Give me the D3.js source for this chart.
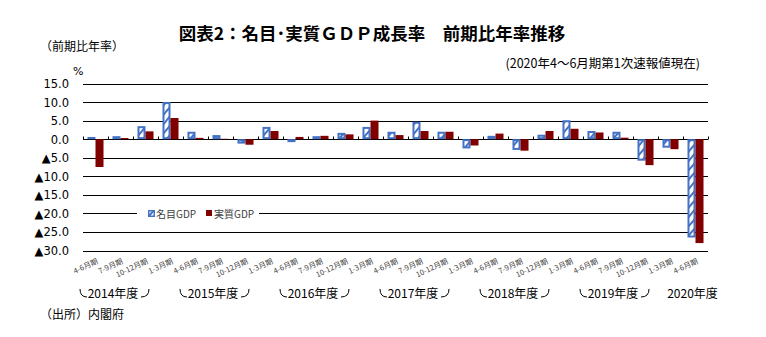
<!DOCTYPE html>
<html><head><meta charset="utf-8">
<script src="https://cdn.jsdelivr.net/npm/d3@7"></script>
<style>html,body{margin:0;padding:0;background:#fff;}</style>
</head><body>
<script>
const quarters = ["4-6月期","7-9月期","10-12月期","1-3月期","4-6月期","7-9月期","10-12月期","1-3月期","4-6月期","7-9月期","10-12月期","1-3月期","4-6月期","7-9月期","10-12月期","1-3月期","4-6月期","7-9月期","10-12月期","1-3月期","4-6月期","7-9月期","10-12月期","1-3月期","4-6月期"];
const nominal = [0.6, 0.8, 3.5, 10.0, 2.0, 1.1, -1.2, 3.3, -0.8, 0.8, 1.7, 3.3, 2.0, 4.7, 2.0, -2.5, 0.9, -2.9, 1.2, 5.1, 2.2, 2.0, -5.8, -2.3, -26.5];
const real    = [-7.5, 0.3, 2.1, 5.7, 0.35, 0.1, -1.5, 2.2, 0.6, 0.9, 1.3, 5.0, 1.1, 2.2, 2.0, -1.7, 1.5, -3.1, 2.2, 2.8, 1.8, 0.4, -7.0, -2.7, -28.0];
const fiscalYears = ["2014年度","2015年度","2016年度","2017年度","2018年度","2019年度","2020年度"];
const yTicks = [15, 10, 5, 0, -5, -10, -15, -20, -25, -30];
const seriesNames = ["名目GDP","実質GDP"];

const W = 766, H = 337;
const cjk = "'Noto Sans CJK JP','Noto Sans',sans-serif";
const svg = d3.select("body").append("svg").attr("width", W).attr("height", H)
  .style("font-family", cjk);

const defs = svg.append("defs");
const pat = defs.append("pattern").attr("id","hatch").attr("patternUnits","userSpaceOnUse")
  .attr("width",6).attr("height",6).attr("patternTransform","rotate(40)");
pat.append("rect").attr("width",6).attr("height",6).attr("fill","#fff");
pat.append("rect").attr("x",0).attr("width",2).attr("height",6).attr("fill","#4472C4");

const idx = d3.range(quarters.length);
const x = d3.scaleBand().domain(idx).range([83, 708]).padding(0);
const inner = d3.scaleBand().domain(["n","r"]).range([0, x.bandwidth()]).paddingInner(0).paddingOuter(0.56);
const y = d3.scaleLinear().domain([-30, 15]).range([250.5, 83.5]);

// title
svg.append("text").attr("x", 372).attr("y", 40).attr("text-anchor","middle")
  .attr("font-size", 17.5).attr("font-weight","bold").attr("fill","#000")
  .text("図表2：名目･実質ＧＤＰ成長率　前期比年率推移");
svg.append("text").attr("x", 40).attr("y", 51).attr("font-size", 12).attr("fill","#000")
  .text("（前期比年率）");
svg.append("text").attr("x", 700).attr("y", 68).attr("text-anchor","end").attr("font-size", 12.5).attr("fill","#000")
  .text("(2020年4～6月期第1次速報値現在)");
svg.append("text").attr("x", 73).attr("y", 75).attr("font-size", 11).attr("fill","#000")
  .style("font-family","'DejaVu Sans',sans-serif").text("%");
svg.append("text").attr("x", 40).attr("y", 319).attr("font-size", 12).attr("fill","#000")
  .text("（出所）内閣府");

// grid
const g = svg.append("g");
g.selectAll("line.grid").data(yTicks).join("line").attr("class","grid")
  .attr("x1", 83).attr("x2", 708).attr("y1", d => Math.round(y(d))+0.5).attr("y2", d => Math.round(y(d))+0.5)
  .attr("stroke","#000").attr("stroke-width",1);

// y labels
g.selectAll("text.yl").data(yTicks).join("text").attr("class","yl")
  .attr("x", 69).attr("y", d => y(d)+4.5).attr("text-anchor","end")
  .attr("font-size", 11.5).attr("fill","#000").style("font-family","'DejaVu Sans',sans-serif")
  .text(d => d < 0 ? "▲" + Math.abs(d).toFixed(1) : d.toFixed(1));

// zero-line ticks at category boundaries
const bounds = idx.map(i => x(i)).concat([x.range()[1]]);
g.selectAll("line.tk").data(bounds).join("line").attr("class","tk")
  .attr("x1", d => Math.round(d)+0.5).attr("x2", d => Math.round(d)+0.5)
  .attr("y1", Math.round(y(0))-2.5).attr("y2", Math.round(y(0))+0.5)
  .attr("stroke","#000").attr("stroke-width",1);

// legend (white box covering grid)
const leg = svg.append("g");
leg.append("rect").attr("x",137).attr("y",206).attr("width",122).attr("height",14).attr("fill","#fff");
leg.append("rect").attr("x",148.75).attr("y",210.75).attr("width",5.5).attr("height",5.5)
  .attr("fill","url(#hatch)").attr("stroke","#4472C4").attr("stroke-width",1.5);
leg.append("text").attr("x",156).attr("y",217.5).attr("font-size",10).attr("fill","#404040").text(seriesNames[0]);
leg.append("rect").attr("x",206).attr("y",210).attr("width",6).attr("height",6).attr("fill","#800000");
leg.append("text").attr("x",214).attr("y",217.5).attr("font-size",10).attr("fill","#404040").text(seriesNames[1]);

// bars
const bw = inner.bandwidth();
g.selectAll("rect.nom").data(nominal).join("rect").attr("class","nom")
  .attr("x", (d,i) => x(i) + inner("n") + 1)
  .attr("y", d => Math.min(y(d), y(0)) + 1)
  .attr("width", bw - 2)
  .attr("height", d => Math.max(0, Math.abs(y(d) - y(0)) - 2))
  .attr("fill","url(#hatch)").attr("stroke","#4472C4").attr("stroke-width",2);
g.selectAll("rect.real").data(real).join("rect").attr("class","real")
  .attr("x", (d,i) => x(i) + inner("r"))
  .attr("y", d => Math.min(y(d), y(0)))
  .attr("width", bw)
  .attr("height", d => Math.abs(y(d) - y(0)))
  .attr("fill","#800000");

// x labels
g.selectAll("text.xl").data(quarters).join("text").attr("class","xl")
  .attr("text-anchor","end").attr("font-size",7.5).attr("fill","#404040")
  .attr("transform", (d,i) => `translate(${x(i)+x.bandwidth()/2+3},${263}) rotate(-25)`)
  .text(d => d);

// fiscal year labels with brackets
const yg = svg.append("g");
fiscalYears.forEach((fy, k) => {
  const start = x(k*4);
  const last = k === fiscalYears.length - 1;
  const cx = last ? x(k*4) + x.bandwidth()/2 - 3 : start + 30;
  yg.append("text").attr("x", cx).attr("y", 298).attr("text-anchor","middle")
    .attr("font-size", 12).attr("fill","#000").text(fy);
  if (!last) {
    const l0 = cx - 33, r1 = cx + 36;
    yg.append("path").attr("d", `M${l0},289 Q${l0},297 ${l0+7},297`).attr("fill","none").attr("stroke","#000").attr("stroke-width",1);
    yg.append("path").attr("d", `M${r1-8},297 Q${r1},297 ${r1},289`).attr("fill","none").attr("stroke","#000").attr("stroke-width",1);
  }
});
</script>
</body></html>
